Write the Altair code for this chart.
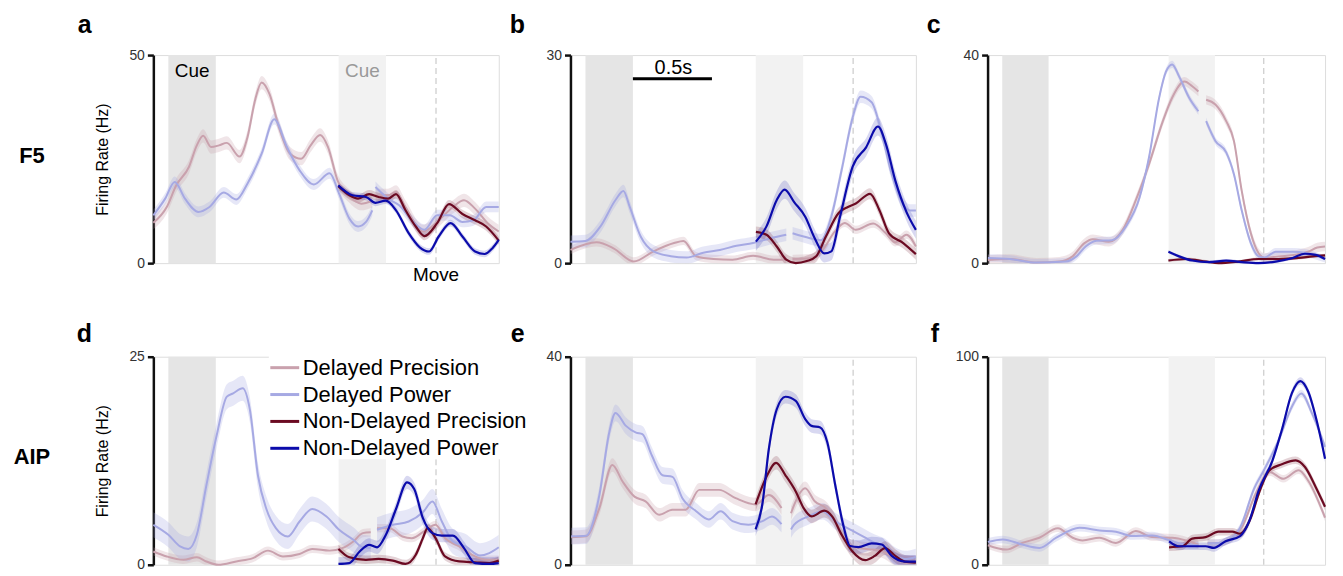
import altair as alt
import pandas as pd

FONT = "Liberation Sans"
SERIES = ["Delayed Precision", "Delayed Power", "Non-Delayed Precision", "Non-Delayed Power"]
COLORS = ["#c9a1ad", "#a6a9e3", "#6b0a22", "#0b0bab"]
BAND_OPACITY = [0.28, 0.28, 0.18, 0.16]

PANELS = ["a", "b", "c", "d", "e", "f"]
Y_MAX = [50, 30, 40, 25, 40, 100]
ROW_LABELS = ["F5", "AIP"]
Y_TITLE = "Firing Rate (Hz)"

X_DOMAIN = [-0.095, 2.09]
CUE = [0.0, 0.3]
ND_CUE = [1.077, 1.377]
CUE_FILLS = ["#e5e5e5", "#f2f2f2"]
MOVE_T = 1.693
BREAK_T = 1.30
CUE_LABEL_T = [0.15, 1.227]
CUE_LABEL_V = [46.2, 46.2]
CUE_LABEL_COLORS = ["#000000", "#999999"]
MOVE_LABEL_V = -2.9
SCALEBAR_T = [0.3, 0.8]
SCALEBAR_V = 26.6
SCALEBAR_LABEL = "0.5s"
SCALEBAR_LABEL_T = 0.556
SCALEBAR_LABEL_V = 28.2

# ---------------- panel a (F5) ----------------
A_DP_T = [-0.095, -0.01, 0.05, 0.13, 0.18, 0.22, 0.27, 0.32, 0.37, 0.45, 0.50, 0.55, 0.59, 0.64, 0.70, 0.77, 0.84, 0.90, 0.96, 1.01, 1.07, 1.14, 1.22, 1.29,
          1.31, 1.39, 1.44, 1.50, 1.61, 1.71, 1.80, 1.87, 1.94, 2.02, 2.09]
A_DP_V = [9.7, 13.5, 18.7, 23.1, 28.3, 30.6, 27.9, 28.3, 28.9, 25.6, 30.2, 39.4, 43.4, 40.6, 32.6, 26.3, 25.1, 28.3, 30.8, 27.9, 19.9, 16.3, 14.3, 15.0,
          16.3, 16.3, 17.1, 13.5, 7.6, 10.3, 13.5, 15.1, 13.1, 9.6, 7.6]
A_DW_T = [-0.095, -0.02, 0.04, 0.105, 0.19, 0.26, 0.35, 0.43, 0.50, 0.59, 0.67, 0.75, 0.83, 0.92, 1.02, 1.08, 1.145, 1.20, 1.25, 1.29,
          1.31, 1.39, 1.46, 1.54, 1.62, 1.70, 1.78, 1.86, 1.93, 2.01, 2.09]
A_DW_V = [11.5, 15.5, 19.5, 15.5, 12.3, 13.5, 17.0, 15.3, 19.1, 26.3, 34.6, 27.9, 22.3, 18.9, 21.6, 16.7, 10.7, 8.8, 9.9, 12.7,
          18.3, 15.5, 13.9, 10.3, 8.0, 11.5, 11.5, 9.9, 10.3, 13.5, 13.5]
A_NP_T = [1.075, 1.145, 1.20, 1.27, 1.33, 1.39, 1.44, 1.50, 1.565, 1.62, 1.70, 1.775, 1.86, 1.94, 2.01, 2.09]
A_NP_V = [18.5, 16.3, 15.5, 16.6, 15.9, 15.5, 16.6, 12.7, 8.8, 6.5, 9.6, 14.2, 11.8, 10.3, 8.8, 5.4]
A_NW_T = [1.075, 1.165, 1.25, 1.31, 1.375, 1.44, 1.52, 1.59, 1.65, 1.71, 1.785, 1.86, 1.94, 2.00, 2.05, 2.09]
A_NW_V = [18.7, 16.3, 15.9, 14.5, 15.0, 12.7, 7.2, 3.8, 2.8, 6.4, 9.6, 6.4, 2.8, 2.2, 3.6, 5.6]
A_ERR = [1.6, 1.3, 1.0, 0.8]

# ---------------- panel b (F5) ----------------
B_DP_T = [-0.095, 0.07, 0.18, 0.305, 0.43, 0.56, 0.62, 0.70, 0.81, 0.93, 1.06, 1.19, 1.27,
          1.31, 1.42, 1.50, 1.575, 1.64, 1.71, 1.82, 1.90, 1.96, 2.03, 2.09]
B_DP_V = [1.9, 3.0, 2.1, 0.24, 1.7, 2.9, 3.2, 1.0, 0.6, 0.5, 1.05, 0.5, 0.5,
          0.6, 0.7, 1.9, 4.5, 5.8, 4.8, 5.7, 4.3, 3.0, 4.1, 2.4]
B_DW_T = [-0.095, 0.0, 0.095, 0.19, 0.24, 0.28, 0.35, 0.43, 0.54, 0.64, 0.745, 0.85, 0.955, 1.06, 1.17, 1.27,
          1.31, 1.42, 1.49, 1.555, 1.62, 1.69, 1.74, 1.81, 1.87, 1.93, 1.995, 2.05, 2.09]
B_DW_V = [3.1, 3.2, 5.3, 9.1, 10.4, 8.1, 3.8, 1.7, 1.0, 0.8, 1.5, 1.9, 2.5, 2.9, 3.6, 4.1,
          4.3, 3.6, 3.3, 6.7, 13.4, 21.0, 24.0, 23.2, 19.1, 13.4, 9.1, 7.6, 7.6]
B_NP_T = [1.078, 1.145, 1.21, 1.27, 1.33, 1.40, 1.46, 1.52, 1.60, 1.66, 1.71, 1.80, 1.86, 1.92, 2.01, 2.09]
B_NP_V = [4.5, 4.1, 2.4, 0.5, 0.0, 0.3, 1.0, 3.8, 7.2, 8.1, 8.6, 10.0, 7.6, 4.3, 2.9, 1.3]
B_NW_T = [1.078, 1.145, 1.21, 1.26, 1.32, 1.39, 1.45, 1.51, 1.555, 1.61, 1.69, 1.775, 1.85, 1.90, 1.96, 2.03, 2.09]
B_NW_V = [3.1, 5.3, 9.1, 10.6, 8.8, 6.7, 3.6, 1.4, 1.7, 6.7, 13.9, 16.7, 19.7, 17.2, 11.9, 7.4, 4.8]
B_ERR = [0.6, 0.9, 0.8, 1.3]

# ---------------- panel c (F5) ----------------
C_DP_T = [-0.093, 0.05, 0.22, 0.37, 0.455, 0.53, 0.585, 0.69, 0.78, 0.865, 0.95, 1.04, 1.10, 1.18, 1.23, 1.27,
          1.32, 1.38, 1.45, 1.50, 1.55, 1.61, 1.66, 1.70, 1.79, 1.90, 1.98, 2.04, 2.09]
C_DP_V = [0.6, 0.8, 0.1, 0.3, 1.3, 3.8, 4.6, 4.1, 6.4, 12.1, 19.0, 27.3, 31.8, 34.9, 34.0, 33.0,
          31.4, 30.5, 27.3, 23.5, 14.0, 5.7, 1.9, 1.0, 1.3, 1.6, 2.2, 3.0, 3.2]
C_DW_T = [-0.093, 0.05, 0.22, 0.41, 0.48, 0.54, 0.61, 0.71, 0.80, 0.89, 0.95, 1.016, 1.06, 1.10, 1.145, 1.21, 1.27,
          1.32, 1.38, 1.45, 1.50, 1.55, 1.61, 1.66, 1.70, 1.77, 1.88, 1.96, 2.03, 2.09]
C_DW_V = [1.0, 0.8, 0.1, 0.3, 1.3, 3.2, 4.3, 4.4, 7.0, 12.7, 20.3, 31.8, 36.8, 38.2, 35.9, 31.8, 29.2,
          27.3, 23.5, 21.3, 17.1, 10.2, 3.8, 1.3, 1.1, 2.2, 2.2, 2.0, 1.4, 0.8]
C_NP_T = [1.076, 1.19, 1.32, 1.40, 1.53, 1.66, 1.79, 1.92, 2.01, 2.09]
C_NP_V = [0.5, 0.8, 0.3, 0.0, 0.3, 0.8, 0.8, 1.0, 1.3, 1.5]
C_NW_T = [1.076, 1.145, 1.23, 1.34, 1.45, 1.55, 1.66, 1.77, 1.88, 1.96, 2.03, 2.09]
C_NW_V = [2.2, 1.3, 0.5, 0.2, 0.5, 0.2, 0.0, 0.3, 1.0, 1.8, 1.6, 0.8]
C_ERR = [0.9, 0.7, 0.3, 0.3]

# ---------------- panel d (AIP) ----------------
D_DP_T = [-0.095, -0.01, 0.095, 0.18, 0.24, 0.315, 0.43, 0.535, 0.63, 0.725, 0.83, 0.91, 1.02, 1.10, 1.17, 1.23, 1.28,
          1.32, 1.40, 1.48, 1.54, 1.63, 1.69, 1.75, 1.84, 1.92, 2.01, 2.09]
D_DP_V = [1.6, 1.0, 0.6, 0.9, 0.4, 0.0, 0.4, 0.8, 1.7, 1.0, 1.3, 1.9, 1.7, 2.0, 2.8, 3.8, 3.9,
          4.4, 4.4, 3.4, 3.2, 4.2, 4.8, 3.2, 2.2, 1.2, 0.6, 0.6]
D_DW_T = [-0.095, 0.0, 0.074, 0.126, 0.18, 0.24, 0.305, 0.37, 0.41, 0.47, 0.515, 0.567, 0.62, 0.68, 0.756, 0.83, 0.91, 1.00, 1.08, 1.17, 1.23, 1.28,
          1.32, 1.42, 1.52, 1.61, 1.67, 1.73, 1.80, 1.88, 1.97, 2.03, 2.09]
D_DW_V = [4.8, 3.6, 2.2, 1.9, 3.6, 9.5, 15.5, 20.2, 20.6, 21.2, 18.7, 10.7, 6.7, 4.4, 3.4, 5.2, 6.7, 5.8, 4.2, 3.0, 2.1, 2.0,
          4.2, 4.8, 5.2, 6.3, 7.6, 5.2, 2.8, 2.2, 1.1, 1.4, 2.1]
D_NP_T = [1.076, 1.145, 1.25, 1.33, 1.42, 1.50, 1.565, 1.61, 1.64, 1.69, 1.75, 1.84, 1.94, 2.03, 2.09]
D_NP_V = [1.9, 0.9, 0.6, 0.7, 0.5, 0.1, 1.2, 3.2, 4.4, 3.2, 1.0, 0.4, 0.3, 0.2, 0.5]
D_NW_T = [1.076, 1.145, 1.21, 1.27, 1.32, 1.376, 1.44, 1.51, 1.555, 1.61, 1.67, 1.73, 1.80, 1.87, 1.94, 2.03, 2.09]
D_NW_V = [0.1, 0.2, 1.6, 2.4, 2.1, 3.6, 6.7, 9.9, 9.1, 5.6, 3.8, 3.5, 3.5, 2.0, 0.2, 0.1, 0.2]
D_ERR = [0.5, 1.5, 0.5, 0.8]

# ---------------- panel e (AIP) ----------------
E_DP_T = [-0.09, 0.004, 0.088, 0.17, 0.235, 0.31, 0.38, 0.466, 0.55, 0.634, 0.72, 0.845, 0.95, 1.076, 1.16, 1.24, 1.30,
          1.32, 1.39, 1.45, 1.52, 1.58, 1.64, 1.71, 1.79, 1.87, 1.96, 2.02, 2.09]
E_DP_V = [5.3, 5.5, 10.9, 19.2, 16.0, 13.1, 12.2, 9.6, 10.6, 10.6, 14.4, 14.4, 12.8, 11.6, 13.4, 10.9, 9.9,
          11.5, 14.7, 12.2, 10.9, 8.4, 4.6, 3.3, 3.0, 2.7, 1.1, 0.4, 0.6]
E_DW_T = [-0.09, 0.004, 0.088, 0.15, 0.19, 0.256, 0.32, 0.36, 0.42, 0.487, 0.55, 0.613, 0.70, 0.78, 0.855, 0.93, 1.03, 1.12, 1.18, 1.24, 1.30,
          1.32, 1.41, 1.50, 1.58, 1.685, 1.77, 1.83, 1.895, 1.96, 2.02, 2.09]
E_DW_V = [5.5, 5.6, 13.4, 25.4, 29.2, 26.7, 25.4, 25.1, 21.0, 17.2, 16.9, 12.8, 10.3, 8.7, 10.3, 8.4, 7.7, 8.4, 9.3, 7.8, 6.8,
          7.7, 9.3, 10.3, 8.4, 6.6, 5.2, 4.2, 3.4, 1.7, 1.1, 1.5]
E_NP_T = [1.076, 1.14, 1.206, 1.265, 1.33, 1.38, 1.43, 1.51, 1.56, 1.62, 1.685, 1.77, 1.83, 1.895, 1.96, 2.02, 2.09]
E_NP_V = [11.6, 16.6, 19.6, 17.2, 14.1, 10.9, 9.3, 10.4, 9.3, 5.8, 2.7, 0.9, 1.7, 3.2, 1.7, 0.6, 0.4]
E_NW_T = [1.076, 1.118, 1.16, 1.21, 1.265, 1.33, 1.39, 1.43, 1.485, 1.53, 1.58, 1.63, 1.674, 1.727, 1.81, 1.874, 1.937, 2.02, 2.09]
E_NW_V = [6.8, 11.5, 22.3, 29.9, 32.3, 31.5, 28.0, 26.7, 26.4, 23.5, 15.3, 7.7, 3.6, 3.4, 4.1, 3.9, 1.7, 0.6, 0.6]
E_ERR = [1.3, 1.6, 1.3, 1.3]

# ---------------- panel f (AIP) ----------------
F_DP_T = [-0.093, 0.026, 0.13, 0.24, 0.36, 0.456, 0.52, 0.63, 0.736, 0.865, 0.97, 1.10, 1.19, 1.27,
          1.33, 1.40, 1.49, 1.55, 1.64, 1.73, 1.82, 1.92, 1.98, 2.09]
F_DP_V = [9.4, 7.3, 10.5, 13.0, 17.5, 13.0, 11.7, 13.0, 10.5, 16.2, 13.3, 13.0, 11.7, 9.7,
          10.5, 10.5, 13.0, 17.8, 34.0, 44.6, 41.3, 45.4, 40.5, 22.7]
F_DW_T = [-0.093, 0.004, 0.13, 0.24, 0.35, 0.50, 0.63, 0.736, 0.84, 0.97, 1.10, 1.21, 1.27,
          1.33, 1.40, 1.49, 1.54, 1.63, 1.70, 1.79, 1.876, 1.936, 2.005, 2.09]
F_DW_V = [11.0, 12.2, 9.7, 8.1, 13.0, 17.8, 16.5, 15.9, 13.8, 14.1, 11.3, 9.4, 9.4,
          10.4, 10.5, 13.0, 17.8, 36.5, 46.2, 59.9, 76.1, 82.3, 72.9, 56.7]
F_NP_T = [1.08, 1.166, 1.23, 1.317, 1.40, 1.49, 1.54, 1.61, 1.66, 1.73, 1.81, 1.90, 1.96, 2.03, 2.09]
F_NP_V = [8.4, 8.9, 12.6, 13.3, 15.9, 15.9, 14.9, 22.7, 34.0, 45.4, 48.3, 50.2, 47.0, 37.3, 27.9]
F_NW_T = [1.08, 1.145, 1.23, 1.317, 1.37, 1.446, 1.54, 1.60, 1.66, 1.75, 1.81, 1.876, 1.93, 1.98, 2.04, 2.09]
F_NW_V = [11.3, 8.9, 8.9, 8.9, 8.1, 11.3, 13.8, 21.1, 35.6, 50.2, 64.8, 82.6, 88.3, 83.4, 68.0, 51.0]
F_ERR = [1.8, 1.8, 1.8, 1.8]

DATA = {
    "a": [(A_DP_T, A_DP_V), (A_DW_T, A_DW_V), (A_NP_T, A_NP_V), (A_NW_T, A_NW_V)],
    "b": [(B_DP_T, B_DP_V), (B_DW_T, B_DW_V), (B_NP_T, B_NP_V), (B_NW_T, B_NW_V)],
    "c": [(C_DP_T, C_DP_V), (C_DW_T, C_DW_V), (C_NP_T, C_NP_V), (C_NW_T, C_NW_V)],
    "d": [(D_DP_T, D_DP_V), (D_DW_T, D_DW_V), (D_NP_T, D_NP_V), (D_NW_T, D_NW_V)],
    "e": [(E_DP_T, E_DP_V), (E_DW_T, E_DW_V), (E_NP_T, E_NP_V), (E_NW_T, E_NW_V)],
    "f": [(F_DP_T, F_DP_V), (F_DW_T, F_DW_V), (F_NP_T, F_NP_V), (F_NW_T, F_NW_V)],
}
ERRS = {"a": A_ERR, "b": B_ERR, "c": C_ERR, "d": D_ERR, "e": E_ERR, "f": F_ERR}


def series_frame(key):
    rows = []
    for i, (name, (ts, vs)) in enumerate(zip(SERIES, DATA[key])):
        err = ERRS[key][i]
        delayed = i < 2
        for t, v in zip(ts, vs):
            seg = name + ("-1" if (delayed and t < BREAK_T) else "-2")
            rows.append({"series": name, "seg": seg, "t": t, "v": v,
                         "lo": v - err, "hi": v + err, "delayed": delayed,
                         "bandcol": COLORS[i], "bandop": BAND_OPACITY[i]})
    return pd.DataFrame(rows)


COLOR_SCALE = alt.Scale(domain=SERIES, range=COLORS)
LEGEND = alt.Legend(title=None, orient="none", legendX=116, legendY=-5,
                    symbolType="stroke", symbolSize=841, symbolStrokeWidth=3,
                    labelFontSize=22, labelFont=FONT, labelColor="#000000",
                    labelOffset=2, rowPadding=0, labelLimit=400,
                    fillColor="#ffffff", padding=0)


def make_panel(idx, width, height, letter_dx, letter_offset, legend=False):
    key = PANELS[idx]
    ymax = Y_MAX[idx]
    df = series_frame(key)
    xs = alt.Scale(domain=X_DOMAIN, nice=False, zero=False)
    ys = alt.Scale(domain=[0, ymax], nice=False, zero=True)
    show_title = idx in (0, 3)
    yaxis = alt.Axis(values=[0, ymax], format="d", title=Y_TITLE if show_title else None,
                     grid=False, domainColor="#111111", domainWidth=2.5, tickColor="#111111",
                     tickWidth=2.5, tickSize=6, labelFontSize=14, labelColor="#333333",
                     labelPadding=3, titleFontSize=16, titleFontWeight="normal",
                     titleColor="#000000", titlePadding=18, labelFont=FONT, titleFont=FONT)
    X = alt.X("t:Q", scale=xs, axis=None)
    leg = LEGEND if legend else None

    bands = pd.DataFrame({"start": [CUE[0], ND_CUE[0]], "end": [CUE[1], ND_CUE[1]], "fill": CUE_FILLS})
    rect = alt.Chart(bands).mark_rect().encode(
        x=alt.X("start:Q", scale=xs, axis=None), x2="end:Q",
        y=alt.YDatum(0, scale=ys, axis=yaxis), y2=alt.Y2Datum(ymax),
        fill=alt.Fill("fill:N", scale=None))
    move = alt.Chart(pd.DataFrame({"t": [MOVE_T]})).mark_rule(
        strokeDash=[6, 4], color="#cfcfcf", strokeWidth=1.3).encode(
        x=X, y=alt.YDatum(0, scale=ys, axis=yaxis), y2=alt.Y2Datum(ymax))

    areas = alt.Chart(df).mark_area(interpolate="monotone", clip=True).encode(
        x=X, y=alt.Y("lo:Q", scale=ys, axis=yaxis), y2="hi:Q",
        fill=alt.Fill("bandcol:N", scale=None),
        opacity=alt.Opacity("bandop:Q", scale=None),
        detail="seg:N")

    line_d = alt.Chart(df[df["delayed"]]).mark_line(interpolate="monotone", strokeWidth=2).encode(
        x=X, y=alt.Y("v:Q", scale=ys, axis=yaxis),
        stroke=alt.Stroke("series:N", scale=COLOR_SCALE, legend=leg),
        detail="seg:N")
    line_n = alt.Chart(df[~df["delayed"]]).mark_line(interpolate="monotone", strokeWidth=2.2).encode(
        x=X, y=alt.Y("v:Q", scale=ys, axis=yaxis),
        stroke=alt.Stroke("series:N", scale=COLOR_SCALE, legend=leg),
        detail="seg:N")

    layers = [rect, move, areas, line_d, line_n]

    if idx == 0:
        cue_df = pd.DataFrame({"t": CUE_LABEL_T, "v": CUE_LABEL_V, "label": ["Cue", "Cue"],
                               "col": CUE_LABEL_COLORS})
        layers.append(alt.Chart(cue_df).mark_text(fontSize=19, font=FONT, baseline="middle").encode(
            x=X, y=alt.Y("v:Q", scale=ys, axis=yaxis), text="label:N",
            fill=alt.Fill("col:N", scale=None)))
        mv_df = pd.DataFrame({"t": [MOVE_T], "v": [MOVE_LABEL_V], "label": ["Move"]})
        layers.append(alt.Chart(mv_df).mark_text(fontSize=19, font=FONT, baseline="middle",
                                                 color="#000000").encode(
            x=X, y=alt.Y("v:Q", scale=ys, axis=yaxis), text="label:N"))
    if idx == 1:
        sb = pd.DataFrame({"start": [SCALEBAR_T[0]], "end": [SCALEBAR_T[1]], "v": [SCALEBAR_V]})
        layers.append(alt.Chart(sb).mark_rule(strokeWidth=3, color="#000000").encode(
            x=alt.X("start:Q", scale=xs, axis=None), x2="end:Q",
            y=alt.Y("v:Q", scale=ys, axis=yaxis)))
        sbl = pd.DataFrame({"t": [SCALEBAR_LABEL_T], "v": [SCALEBAR_LABEL_V], "label": [SCALEBAR_LABEL]})
        layers.append(alt.Chart(sbl).mark_text(fontSize=20, font=FONT, baseline="middle",
                                               color="#000000").encode(
            x=X, y=alt.Y("v:Q", scale=ys, axis=yaxis), text="label:N"))
    if idx in (0, 3):
        rl = pd.DataFrame({"label": [ROW_LABELS[idx // 3]]})
        layers.append(alt.Chart(rl).mark_text(fontSize=22, font=FONT, fontWeight="bold",
                                              align="center", baseline="middle",
                                              color="#000000").encode(
            x=alt.value(-122), y=alt.value(101), text="label:N"))

    return alt.layer(*layers).properties(
        width=width, height=height,
        title=alt.TitleParams(key, anchor="start", frame="group", dx=letter_dx,
                              offset=letter_offset, fontSize=25, fontWeight="bold",
                              font=FONT, color="#000000"))


W12 = 347
W3 = 339
H = 209
pa = make_panel(0, W12, H, -76, 10)
pb = make_panel(1, W12, H, -61, 10)
pc = make_panel(2, W3, H, -61, 10)
pd_ = make_panel(3, W12, H, -77, 3, legend=True)
pe = make_panel(4, W12, H, -60, 3)
pf = make_panel(5, W3, H, -57, 3)

chart = alt.concat(pa, pb, pc, pd_, pe, pf, columns=3,
                   spacing={"row": 94, "column": 72}, bounds="flush").resolve_legend(
    stroke="independent"
).properties(
    padding={"left": 5, "top": 3, "right": 5, "bottom": 5}
).configure_view(stroke=None).configure_axis(grid=False).configure(font=FONT)

chart.save("out.html", embed_options={"renderer": "svg", "actions": False})
